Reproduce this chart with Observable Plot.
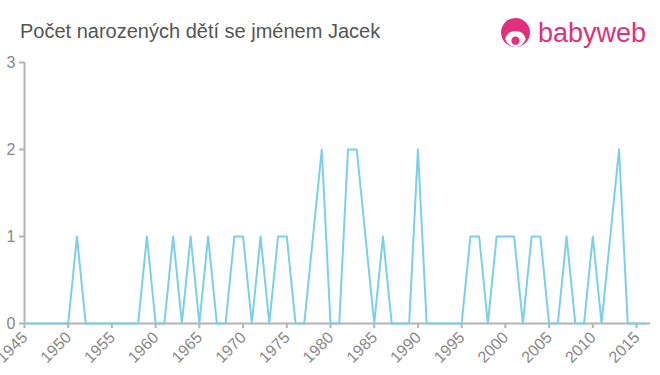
<!DOCTYPE html>
<html>
<head>
<meta charset="utf-8">
<script src="https://cdn.jsdelivr.net/npm/d3@7"></script>
<script src="https://cdn.jsdelivr.net/npm/@observablehq/plot@0.6"></script>
<style>
  html, body { margin: 0; padding: 0; background: #fff; }
  body { width: 660px; height: 375px; position: relative; overflow: hidden; font-family: "Liberation Sans", Arial, sans-serif; }
  #title { position: absolute; left: 20px; top: 19px; font-size: 20px; line-height: 24px; color: #555; }
  #logo { position: absolute; left: 500px; top: 16px; height: 34px; display: flex; align-items: center; }
  #logo span { font-size: 27px; color: #e0307b; margin-left: 7px; }
  #chart { position: absolute; left: 0; top: 50px; }
</style>
</head>
<body>
<div id="title">Počet narozených dětí se jménem Jacek</div>
<div id="logo">
  <svg width="31" height="31" viewBox="0 0 30 30">
    <circle cx="15" cy="14" r="14" fill="#e0307b"/>
    <path d="M5 20 Q8 12 15 13 Q22 12 25 20 Q22 28 15 28 Q8 28 5 20 Z" fill="#fff"/>
    <circle cx="15" cy="22" r="4" fill="#e0307b"/>
  </svg>
  <span>babyweb</span>
</div>
<div id="chart"></div>
<script>
const years = [1945,1946,1947,1948,1949,1950,1951,1952,1953,1954,1955,1956,1957,1958,1959,1960,1961,1962,1963,1964,1965,1966,1967,1968,1969,1970,1971,1972,1973,1974,1975,1976,1977,1978,1979,1980,1981,1982,1983,1984,1985,1986,1987,1988,1989,1990,1991,1992,1993,1994,1995,1996,1997,1998,1999,2000,2001,2002,2003,2004,2005,2006,2007,2008,2009,2010,2011,2012,2013,2014,2015,2016];
const counts = [0,0,0,0,0,0,1,0,0,0,0,0,0,0,1,0,0,1,0,1,0,1,0,0,1,1,0,1,0,1,1,0,0,1,2,0,0,2,2,1,0,1,0,0,0,2,0,0,0,0,0,1,1,0,1,1,1,0,1,1,0,0,1,0,0,1,0,1,2,0,0,0];
const xTicks = [1945,1950,1955,1960,1965,1970,1975,1980,1985,1990,1995,2000,2005,2010,2015];
const yTicks = [0,1,2,3];

const data = years.map((y, i) => ({year: y, count: counts[i]}));
const axisGray = "#b3b3b3";
const textGray = "#888";

const chart = Plot.plot({
  width: 660,
  height: 325,
  marginLeft: 24,
  marginRight: 10,
  marginTop: 12,
  marginBottom: 52,
  style: {fontFamily: "'Liberation Sans', Arial, sans-serif", fontSize: "16px", background: "#fff", overflow: "visible"},
  x: {type: "linear", domain: [1945, 2016.6], axis: null},
  y: {type: "linear", domain: [0, 3], axis: null},
  marks: [
    Plot.axisY({ticks: yTicks, tickSize: 5, tickPadding: 4, stroke: axisGray, strokeWidth: 2, fill: textGray, fontSize: 16, label: null, tickFormat: d => String(d)}),
    Plot.axisX({ticks: xTicks, tickSize: 5, stroke: axisGray, strokeWidth: 2, label: null, tickFormat: () => ""}),
    Plot.text(xTicks, {x: d => d, y: 0, text: d => String(d), rotate: -45, textAnchor: "end", lineAnchor: "bottom", dx: 4, dy: 15, fill: textGray, fontSize: 16}),
    Plot.ruleY([0], {stroke: axisGray, strokeWidth: 2}),
    Plot.ruleX([1945], {stroke: axisGray, strokeWidth: 2}),
    Plot.line(data, {x: "year", y: "count", stroke: "#7ccfe8", strokeWidth: 2})
  ]
});
document.getElementById("chart").appendChild(chart);
</script>
</body>
</html>
